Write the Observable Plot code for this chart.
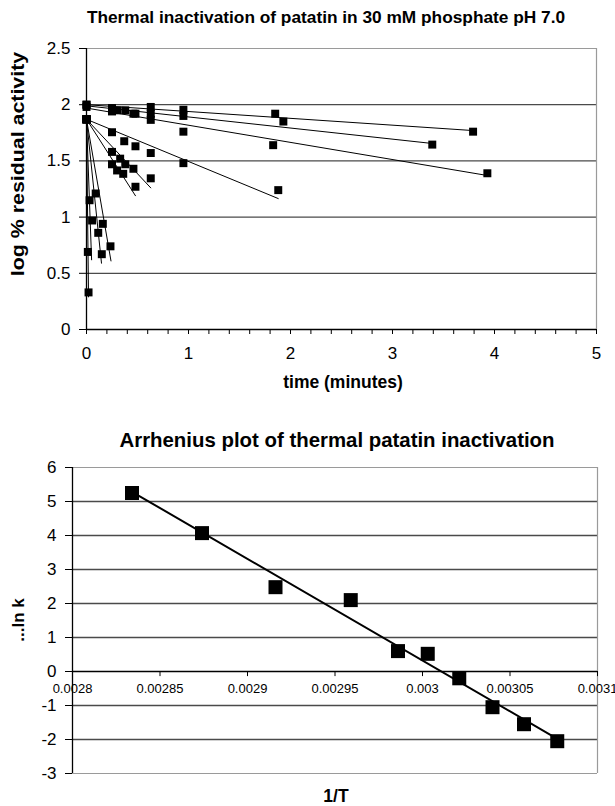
<!DOCTYPE html>
<html><head><meta charset="utf-8">
<script src="https://cdn.jsdelivr.net/npm/d3@7"></script>
<script src="https://cdn.jsdelivr.net/npm/@observablehq/plot@0.6"></script>
<style>
body{margin:0;background:#fff;width:615px;height:806px;position:relative;overflow:hidden;font-family:"Liberation Sans",Arial,sans-serif;}
.t{position:absolute;white-space:nowrap;color:#000;line-height:1;}
#c1{position:absolute;left:0;top:30px;}
#c2{position:absolute;left:0;top:455px;}
</style></head><body>
<div id="c1"></div>
<div id="c2"></div>
<div class="t" id="title1" style="left:326px;top:18px;transform:translate(-50%,-50%);font-weight:bold;font-size:17.3px;">Thermal inactivation of patatin in 30 mM phosphate pH 7.0</div>
<div class="t" id="ylab1" style="left:19px;top:164px;transform:translate(-50%,-50%) rotate(-90deg) scaleX(1.22);font-weight:bold;font-size:17.5px;">log % residual activity</div>
<div class="t" id="xlab1" style="left:343px;top:383px;transform:translate(-50%,-50%);font-weight:bold;font-size:17.5px;">time (minutes)</div>
<div class="t" id="title2" style="left:337px;top:440px;transform:translate(-50%,-50%);font-weight:bold;font-size:20.4px;">Arrhenius plot of thermal patatin inactivation</div>
<div class="t" id="ylab2" style="left:18px;top:620px;transform:translate(-50%,-50%) rotate(-90deg);font-weight:bold;font-size:17px;">...ln k</div>
<div class="t" id="xlab2" style="left:336px;top:797px;transform:translate(-50%,-50%);font-weight:bold;font-size:17.5px;">1/T</div>
<script>
// ---- Top chart: thermal inactivation series (temperature labels, °C) ----
const temps = ["52","54","56","58","60","62","65","70","75","80"];
const times = [
  [0, 0.25, 0.38, 0.63, 0.95, 1.85, 3.79],
  [0, 0.30, 0.46, 0.63, 0.95, 1.93, 3.39],
  [0, 0.25, 0.48, 0.63, 0.95, 1.83, 3.93],
  [0, 0.25, 0.37, 0.48, 0.63, 0.95, 1.88],
  [0, 0.25, 0.33, 0.38, 0.46, 0.63],
  [0, 0.25, 0.30, 0.36, 0.48],
  [0, 0.09, 0.16, 0.235],
  [0, 0.055, 0.115, 0.15],
  [0, 0.03],
  [0, 0.013, 0.02]
];
const logActivity = [
  [2.00, 1.97, 1.95, 1.98, 1.955, 1.92, 1.76],
  [2.00, 1.95, 1.92, 1.92, 1.90, 1.85, 1.645],
  [1.98, 1.94, 1.92, 1.865, 1.76, 1.64, 1.39],
  [1.87, 1.755, 1.675, 1.63, 1.57, 1.48, 1.24],
  [1.87, 1.58, 1.52, 1.47, 1.43, 1.345],
  [1.87, 1.47, 1.415, 1.385, 1.27],
  [1.87, 1.21, 0.94, 0.74],
  [1.87, 0.97, 0.86, 0.67],
  [1.87, 1.15],
  [1.87, 0.69, 0.33]
];
// trend lines: start value at t=0, end time, end value
const fitStart = [2.00, 1.99, 1.97, 1.87, 1.87, 1.87, 1.87, 1.87, 1.87, 1.87];
const fitEndT  = [3.79, 3.39, 3.93, 1.88, 0.63, 0.48, 0.24, 0.147, 0.05, 0.02];
const fitEndV  = [1.77, 1.655, 1.37, 1.165, 1.26, 1.19, 0.61, 0.59, 0.62, 0.29];
const yTicks1 = [0, 0.5, 1, 1.5, 2, 2.5];
const xTicks1 = [0, 1, 2, 3, 4, 5];

// ---- Bottom chart: Arrhenius plot ----
const invT = [0.002834, 0.002874, 0.002916, 0.002959, 0.002986, 0.003003, 0.003021, 0.003040, 0.003058, 0.003077];
const lnK  = [5.25, 4.07, 2.48, 2.10, 0.60, 0.52, -0.20, -1.05, -1.55, -2.05];
const xTicks2 = [0.0028, 0.00285, 0.0029, 0.00295, 0.003, 0.00305, 0.0031];
const xTickLabels2 = ["0.0028", "0.00285", "0.0029", "0.00295", "0.003", "0.00305", "0.0031"];
const yTicks2 = [-3, -2, -1, 0, 1, 2, 3, 4, 5, 6];

const pts = temps.flatMap((s, i) => times[i].map((t, j) => ({s, t, v: logActivity[i][j]})));
const fits = temps.flatMap((s, i) => [{s, t: 0, v: fitStart[i]}, {s, t: fitEndT[i], v: fitEndV[i]}]);

const p1 = Plot.plot({
  width: 615, height: 370,
  marginTop: 18, marginBottom: 71, marginLeft: 86, marginRight: 19,
  style: {fontFamily: "Liberation Sans, Arial, sans-serif", fontSize: "16px", color: "#000", background: "transparent", overflow: "visible"},
  x: {domain: [0, 5]},
  y: {domain: [0, 2.5]},
  marks: [
    Plot.ruleY([0.5, 1, 1.5, 2], {stroke: "#4a4a4a", strokeWidth: 1.3}),
    Plot.ruleY([2.5], {stroke: "#9a9a9a", strokeWidth: 1.2}),
    Plot.ruleX([5], {stroke: "#9a9a9a", strokeWidth: 1.2}),
    Plot.line(fits, {x: "t", y: "v", z: "s", stroke: "#000", strokeWidth: 1}),
    Plot.dot(pts, {x: "t", y: "v", symbol: "square", r: 4.5, fill: "#000", stroke: null}),
    Plot.axisX({ticks: d3.range(0, 51, 2).map(d => d / 10), tickFormat: () => "", tickSize: 5, label: null, stroke: "#000"}),
    Plot.axisX({ticks: xTicks1, tickFormat: d => String(d), tickSize: 5, tickPadding: 12, label: null, fontSize: 17}),
    Plot.axisY({ticks: yTicks1, tickFormat: d => String(d), tickSize: 7, tickPadding: 9, label: null, fontSize: 17}),
    Plot.ruleX([0], {stroke: "#000", strokeWidth: 1.3}),
    Plot.ruleY([0], {stroke: "#000", strokeWidth: 1.3})
  ]
});
document.getElementById("c1").append(p1);

const arr = invT.map((x, i) => ({x, y: lnK[i]}));
const p2 = Plot.plot({
  width: 615, height: 351,
  marginTop: 12, marginBottom: 33, marginLeft: 72, marginRight: 18,
  style: {fontFamily: "Liberation Sans, Arial, sans-serif", fontSize: "16px", color: "#000", background: "transparent", overflow: "visible"},
  x: {domain: [0.0028, 0.0031], axis: null},
  y: {domain: [-3, 6]},
  marks: [
    Plot.ruleY([-2, -1, 1, 2, 3, 4, 5], {stroke: "#4a4a4a", strokeWidth: 1.3}),
    Plot.ruleY([6, -3], {stroke: "#9a9a9a", strokeWidth: 1.2}),
    Plot.ruleX([0.0031], {stroke: "#9a9a9a", strokeWidth: 1.2}),
    Plot.ruleY([0], {stroke: "#000", strokeWidth: 1.3}),
    Plot.ruleX(xTicks2, {x: d => d, y1: 0, y2: -0.15, stroke: "#000"}),
    Plot.text(xTicks2, {x: d => d, y: 0, dy: 17, text: (d, i) => xTickLabels2[i], fontSize: 13, fill: "#000"}),
    Plot.linearRegressionY(arr, {x: "x", y: "y", ci: 0, stroke: "#000", strokeWidth: 2}),
    Plot.dot(arr, {x: "x", y: "y", symbol: "square", r: 7.9, fill: "#000", stroke: null}),
    Plot.axisY({ticks: yTicks2, tickFormat: d => String(d), tickSize: 7, tickPadding: 9, label: null, fontSize: 17}),
    Plot.ruleX([0.0028], {stroke: "#000", strokeWidth: 1.3})
  ]
});
document.getElementById("c2").append(p2);
</script>
</body></html>
